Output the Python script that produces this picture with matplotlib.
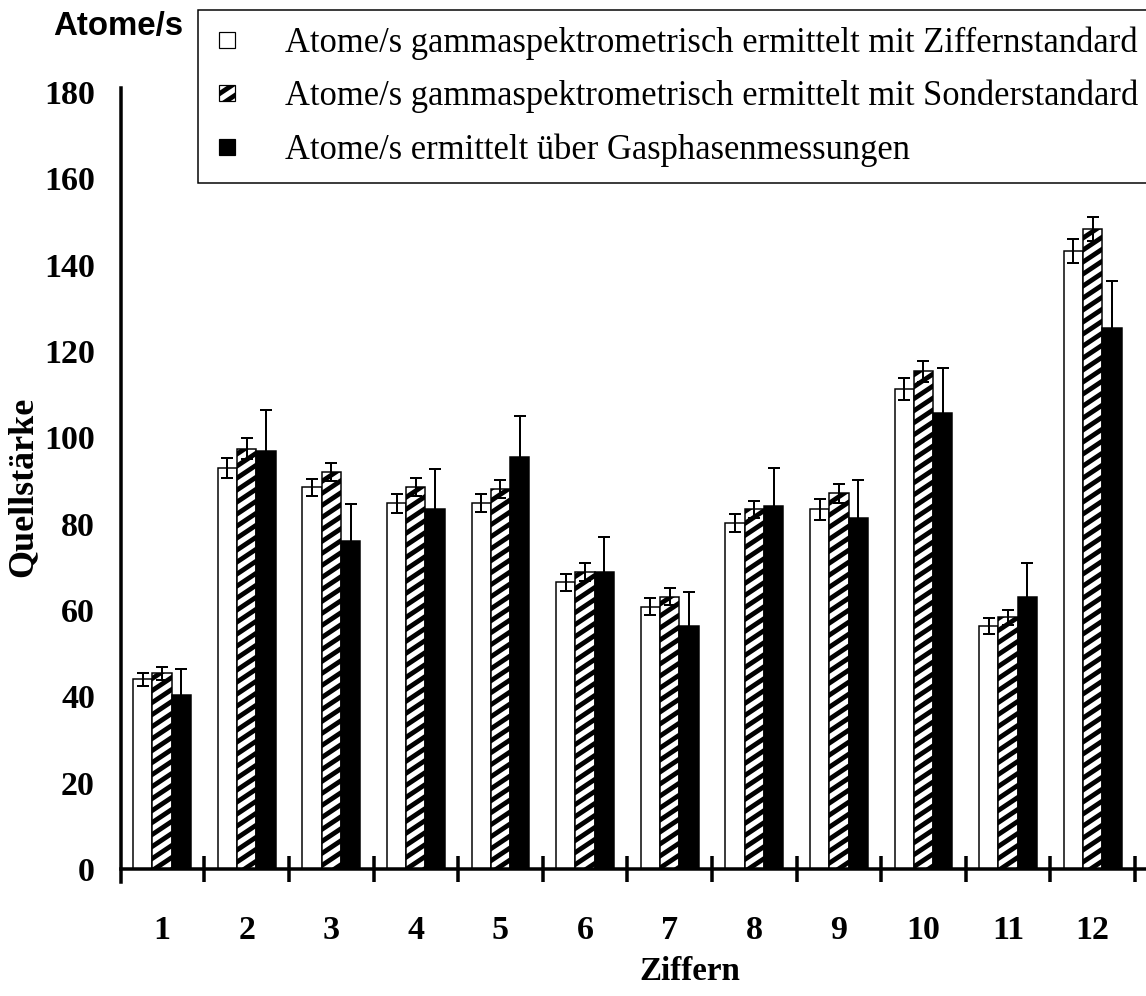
import numpy as np
import matplotlib
matplotlib.use("Agg")
import matplotlib.pyplot as plt
from matplotlib import hatch as mhatch
from matplotlib.path import Path
from matplotlib.patches import Patch, Rectangle
from matplotlib.legend_handler import HandlerPatch

# ---- data -------------------------------------------------------------
categories = ["1", "2", "3", "4", "5", "6", "7", "8", "9", "10", "11", "12"]

ziffer_std = [44.0, 92.9, 88.4, 84.7, 84.7, 66.4, 60.8, 80.2, 83.3, 111.2, 56.3, 143.2]
ziffer_err = [1.5, 2.4, 2.0, 2.2, 2.1, 2.0, 2.0, 2.1, 2.4, 2.6, 1.8, 2.8]

sonder_std = [45.3, 97.4, 91.9, 88.5, 88.1, 68.8, 63.1, 83.3, 87.0, 115.3, 58.3, 148.3]
sonder_err = [1.6, 2.4, 2.1, 2.1, 2.1, 2.0, 1.9, 2.0, 2.2, 2.4, 1.8, 2.8]

gasphase = [40.2, 96.8, 76.0, 83.4, 95.4, 68.8, 56.4, 84.0, 81.2, 105.7, 63.0, 125.3]
gasphase_err = [6.2, 9.5, 8.5, 9.2, 9.6, 8.2, 7.7, 8.9, 9.0, 10.3, 8.0, 11.0]

series_labels = [
    "Atome/s gammaspektrometrisch ermittelt mit Ziffernstandard",
    "Atome/s gammaspektrometrisch ermittelt mit Sonderstandard",
    "Atome/s ermittelt über Gasphasenmessungen",
]
y_ticks = [0, 20, 40, 60, 80, 100, 120, 140, 160, 180]


# ---- shallow diagonal stripes for the '/' hatch --------------------------
class ShallowStripes(mhatch.HatchPatternBase):
    rise = 2.0 / 3.0

    def __init__(self, hatch, density):
        self.num_lines = int(hatch.count('/') * density)
        self.num_vertices = (2 * self.num_lines + 1) * 2 if self.num_lines else 0

    def set_vertices_and_codes(self, vertices, codes):
        n = self.num_lines
        s = np.arange(-n, n + 1) / n
        vertices[0::2, 0] = 0.0
        vertices[0::2, 1] = s
        vertices[1::2, 0] = 1.0
        vertices[1::2, 1] = s + self.rise
        codes[0::2] = Path.MOVETO
        codes[1::2] = Path.LINETO


mhatch._hatch_types = [ShallowStripes if h is mhatch.NorthEastHatch else h
                       for h in mhatch._hatch_types]

plt.rcParams["hatch.linewidth"] = 4.8
SERIF = "Liberation Serif"
SANS = "Liberation Sans"

W, H = 1146, 996
fig = plt.figure(figsize=(W / 72, H / 72), dpi=72)
ax = fig.add_axes([121 / W, (H - 869) / H, 1025 / W, 777 / H])

x = np.arange(1, len(categories) + 1)
bw = 0.228
err_kw = dict(ecolor="black", elinewidth=2, capsize=6, capthick=2)

ax.bar(x - bw, ziffer_std, bw, color="white", edgecolor="black", linewidth=1.5,
       yerr=ziffer_err, error_kw=err_kw, zorder=2)
ax.bar(x, sonder_std, bw, color="white", edgecolor="black", linewidth=1.5,
       hatch="/", yerr=sonder_err, error_kw=err_kw, zorder=2)
ax.bar(x + bw, gasphase, bw, color="black", edgecolor="black", linewidth=1.5,
       yerr=gasphase_err, error_kw=err_kw, zorder=2)

ax.set_xlim(0.515, 12.63)
ax.set_ylim(0, 180)

for side in ("top", "right"):
    ax.spines[side].set_visible(False)
for side in ("left", "bottom"):
    ax.spines[side].set_linewidth(3.5)
ax.spines["left"].set_bounds(-3.0, 181)

ax.set_yticks(y_ticks)
ax.set_yticklabels([str(v) for v in y_ticks], family=SERIF, fontweight="bold", fontsize=34)
ax.tick_params(axis="y", length=0, pad=26)

ax.set_xticks(x)
ax.set_xticklabels(categories, family=SERIF, fontweight="bold", fontsize=34)
ax.set_xticks(np.arange(1.5, 13.0, 1.0), minor=True)
ax.tick_params(axis="x", which="major", length=0, pad=46)
ax.tick_params(axis="x", which="minor", direction="inout", length=26, width=3.5)

fig.text(23 / W, 1 - 487 / H, "Quellstärke", rotation=90, ha="center", va="center",
         family=SERIF, fontweight="bold", fontsize=36)
fig.text(690 / W, 1 - 972 / H, "Ziffern", ha="center", va="center",
         family=SERIF, fontweight="bold", fontsize=33)
fig.text(118 / W, 1 - 27 / H, "Atome/s", ha="center", va="center",
         family=SANS, fontweight="bold", fontsize=33)


def square_handle(legend, orig_handle, xdescent, ydescent, width, height, fontsize):
    s = 16
    return Rectangle((width / 2 - s / 2 - xdescent, height / 2 - s / 2 - ydescent), s, s)


handles = [
    Patch(facecolor="white", edgecolor="black", linewidth=1.2),
    Patch(facecolor="white", edgecolor="black", linewidth=1.2, hatch="/"),
    Patch(facecolor="black", edgecolor="black", linewidth=1.2),
]
leg = fig.legend(handles, series_labels, loc="upper left",
                 bbox_to_anchor=(198 / W, 1 - 10 / H), bbox_transform=fig.transFigure,
                 frameon=True, fancybox=False, framealpha=1, edgecolor="black",
                 borderaxespad=0, borderpad=0.47, labelspacing=0.58,
                 handlelength=0.72, handleheight=0.7, handletextpad=1.32,
                 prop={"family": SERIF, "size": 34.5},
                 handler_map={Patch: HandlerPatch(patch_func=square_handle)})
leg.get_frame().set_linewidth(1.5)

fig.savefig("out.png", dpi=72)
